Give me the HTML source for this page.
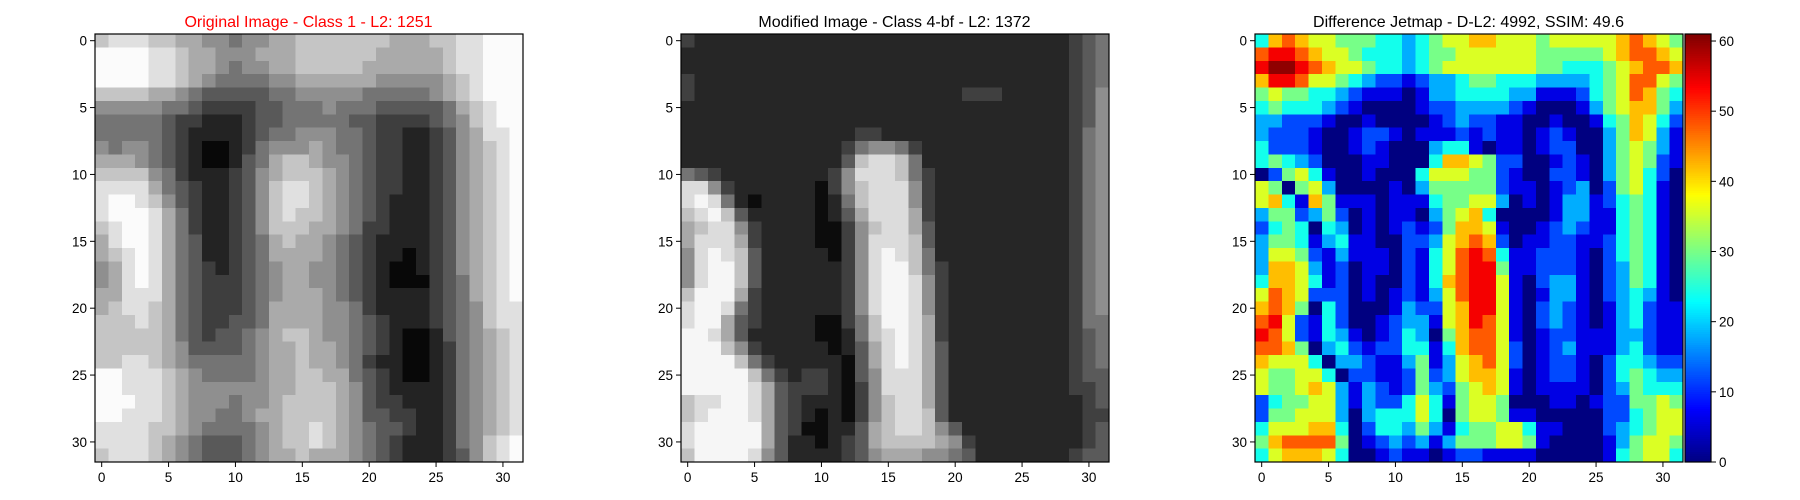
<!DOCTYPE html>
<html><head><meta charset="utf-8">
<style>
html,body{margin:0;padding:0;background:#fff;}
svg{display:block;font-family:"Liberation Sans","DejaVu Sans",sans-serif;}
</style></head>
<body>
<svg id="fig" width="1800" height="500" viewBox="0 0 1800 500" xmlns="http://www.w3.org/2000/svg">
<rect width="1800" height="500" fill="#fff"/>
<g id="p1"></g>
<g id="p2"></g>
<g id="p3"></g>
<g id="cb"></g>
<text x="308.5" y="27" font-size="16" fill="#ff0000" text-anchor="middle">Original Image - Class 1 - L2: 1251</text>
<text x="894.5" y="27" font-size="16" fill="#000" text-anchor="middle">Modified Image - Class 4-bf - L2: 1372</text>
<text x="1468.5" y="27" font-size="16" fill="#000" text-anchor="middle">Difference Jetmap - D-L2: 4992, SSIM: 49.6</text>
</svg>
<script>
// grayscale levels 0..9 (0 = black, 9 = white)
const originalLevels = [
[7,8,8,8,7,7,6,6,5,5,4,5,5,6,6,7,7,7,7,7,7,7,6,6,6,7,7,8,8,9,9,9],
[9,9,9,9,8,8,7,6,6,5,5,5,6,6,6,7,7,7,7,7,7,6,6,6,6,6,7,8,8,9,9,9],
[9,9,9,9,8,8,7,6,6,5,4,5,5,6,6,7,7,7,7,7,6,6,6,6,6,6,7,8,8,9,9,9],
[9,9,9,9,8,8,7,6,5,4,4,4,4,5,5,6,6,6,6,6,6,5,5,5,5,5,6,7,8,9,9,9],
[7,7,7,7,6,6,5,4,3,3,3,3,3,4,4,5,5,5,5,5,4,4,4,4,4,5,6,7,8,9,9,9],
[5,5,5,5,5,4,4,3,2,2,2,2,3,3,4,4,4,5,4,4,4,3,3,3,3,3,4,6,7,8,9,9],
[4,4,4,4,4,3,2,2,1,1,1,2,3,3,4,4,4,4,4,3,3,2,2,2,2,3,4,5,7,8,9,9],
[4,4,4,4,4,3,2,1,1,1,1,2,3,4,4,5,5,5,4,4,3,2,2,1,1,2,3,5,6,8,8,9],
[5,4,5,5,4,3,2,1,0,0,1,2,4,5,5,5,6,5,4,4,3,2,2,1,1,2,3,5,6,7,8,9],
[6,6,6,5,4,3,2,1,0,0,1,3,4,6,7,7,6,5,5,4,3,2,2,1,1,2,3,5,6,7,8,9],
[7,7,7,7,5,4,2,1,1,1,2,3,5,6,7,7,7,6,5,4,3,2,2,1,1,2,3,5,6,7,8,9],
[8,8,8,8,6,4,3,2,1,1,2,3,5,7,8,8,7,6,5,4,3,2,2,1,1,2,3,5,6,7,8,9],
[8,9,9,8,7,5,3,2,1,1,2,3,5,7,8,8,7,6,5,4,3,2,1,1,1,2,3,5,6,7,8,9],
[8,9,9,9,8,6,4,2,1,1,2,3,5,7,8,7,7,6,5,4,3,2,1,1,1,2,3,5,6,7,8,9],
[7,8,9,9,8,6,4,2,1,1,2,3,5,7,7,7,6,6,5,4,2,2,1,1,1,2,3,5,6,7,8,9],
[6,8,9,9,8,6,4,3,1,1,2,3,4,6,7,6,6,5,4,3,2,1,1,1,1,2,3,5,6,7,8,9],
[6,7,8,9,8,6,4,3,1,1,2,3,4,6,6,6,6,5,4,3,2,1,1,0,1,2,3,5,6,7,8,9],
[5,6,8,9,8,6,4,3,2,1,2,3,4,5,6,6,5,5,4,3,2,1,0,0,1,2,3,5,6,7,8,9],
[5,6,8,9,8,6,4,3,2,2,2,3,4,5,6,6,5,5,4,3,2,1,0,0,0,2,3,4,6,7,8,9],
[6,6,8,8,8,6,4,3,2,2,2,3,4,5,6,6,6,5,4,3,2,1,1,1,1,2,3,4,6,7,8,9],
[6,7,8,8,7,6,4,3,2,2,2,3,4,6,6,6,6,5,5,4,2,1,1,1,1,2,3,4,5,7,8,8],
[7,7,7,8,7,6,4,3,2,2,3,3,4,6,6,6,6,5,5,4,3,2,1,1,1,2,3,4,5,7,8,8],
[7,7,7,7,7,6,4,3,2,3,3,4,5,6,7,7,6,5,5,4,3,2,1,0,0,1,3,4,5,6,7,8],
[7,7,7,7,7,6,5,3,3,3,3,4,5,6,6,7,6,6,5,4,3,2,1,0,0,1,2,4,5,6,7,8],
[7,7,8,8,7,6,5,4,4,4,4,4,5,6,6,7,6,6,5,4,2,1,1,0,0,1,2,4,5,6,7,8],
[9,9,8,8,8,7,6,5,4,4,4,4,5,6,6,7,7,6,6,4,3,2,1,0,0,1,2,4,5,6,7,8],
[9,9,8,8,8,7,6,5,5,5,5,5,5,6,6,7,7,7,6,5,3,2,1,1,1,1,2,4,5,6,7,8],
[9,9,9,8,8,7,6,5,5,5,4,5,5,6,7,7,7,7,6,5,3,2,2,1,1,1,2,4,5,6,7,8],
[9,9,8,8,8,7,6,5,5,4,4,5,6,6,7,7,7,7,6,5,3,3,2,2,1,1,2,4,5,6,7,8],
[8,8,8,8,7,7,6,5,4,4,4,4,5,6,7,7,8,7,6,5,4,3,3,2,1,1,2,4,5,6,7,8],
[8,8,8,8,7,6,5,4,3,3,3,4,5,6,7,7,8,7,6,5,4,3,2,1,1,1,2,4,5,7,8,9],
[7,8,8,8,7,6,5,4,3,3,3,4,5,6,6,7,6,6,6,5,4,3,2,1,1,1,2,3,5,7,8,9]
];
const modifiedLevels = [
[2,1,1,1,1,1,1,1,1,1,1,1,1,1,1,1,1,1,1,1,1,1,1,1,1,1,1,1,1,2,3,4],
[1,1,1,1,1,1,1,1,1,1,1,1,1,1,1,1,1,1,1,1,1,1,1,1,1,1,1,1,1,2,3,4],
[1,1,1,1,1,1,1,1,1,1,1,1,1,1,1,1,1,1,1,1,1,1,1,1,1,1,1,1,1,2,3,4],
[2,1,1,1,1,1,1,1,1,1,1,1,1,1,1,1,1,1,1,1,1,1,1,1,1,1,1,1,1,2,3,4],
[2,1,1,1,1,1,1,1,1,1,1,1,1,1,1,1,1,1,1,1,1,2,2,2,1,1,1,1,1,2,3,5],
[1,1,1,1,1,1,1,1,1,1,1,1,1,1,1,1,1,1,1,1,1,1,1,1,1,1,1,1,1,2,3,5],
[1,1,1,1,1,1,1,1,1,1,1,1,1,1,1,1,1,1,1,1,1,1,1,1,1,1,1,1,1,2,3,5],
[1,1,1,1,1,1,1,1,1,1,1,1,1,2,2,1,1,1,1,1,1,1,1,1,1,1,1,1,1,2,4,5],
[1,1,1,1,1,1,1,1,1,1,1,1,2,4,5,5,4,2,1,1,1,1,1,1,1,1,1,1,1,2,4,5],
[1,1,1,1,1,1,1,1,1,1,1,1,3,7,8,8,7,4,1,1,1,1,1,1,1,1,1,1,1,2,4,5],
[4,3,2,1,1,1,1,1,1,1,1,2,5,8,8,8,7,4,2,1,1,1,1,1,1,1,1,1,1,2,4,5],
[8,8,5,2,1,1,1,1,1,1,0,2,5,7,8,8,8,5,2,1,1,1,1,1,1,1,1,1,1,2,4,5],
[8,9,8,4,1,0,1,1,1,1,0,1,4,7,8,8,8,5,2,1,1,1,1,1,1,1,1,1,1,2,4,5],
[7,8,9,7,3,1,1,1,1,1,0,1,3,6,8,8,8,6,2,1,1,1,1,1,1,1,1,1,1,2,4,5],
[6,7,8,8,5,2,1,1,1,1,0,0,2,5,7,8,8,6,3,1,1,1,1,1,1,1,1,1,1,2,4,5],
[6,8,8,8,6,2,1,1,1,1,0,0,2,5,8,8,8,7,3,1,1,1,1,1,1,1,1,1,1,2,4,5],
[5,8,9,8,7,3,1,1,1,1,1,0,2,5,8,9,8,7,4,1,1,1,1,1,1,1,1,1,1,2,4,5],
[5,8,9,9,7,3,1,1,1,1,1,1,2,5,8,9,9,7,4,2,1,1,1,1,1,1,1,1,1,2,4,5],
[5,8,9,9,7,3,1,1,1,1,1,1,2,5,8,9,9,8,5,2,1,1,1,1,1,1,1,1,1,2,4,5],
[7,9,9,9,6,2,1,1,1,1,1,1,2,5,8,9,9,8,5,2,1,1,1,1,1,1,1,1,1,2,4,5],
[8,9,9,8,4,2,1,1,1,1,1,1,2,5,8,9,9,8,5,2,1,1,1,1,1,1,1,1,1,2,4,5],
[8,9,9,6,3,2,1,1,1,1,0,0,2,4,7,9,9,8,6,2,1,1,1,1,1,1,1,1,1,2,4,4],
[9,9,8,6,3,1,1,1,1,1,0,0,1,4,7,8,9,8,6,2,1,1,1,1,1,1,1,1,1,2,3,4],
[9,9,9,7,5,2,1,1,1,1,1,0,1,3,6,8,9,8,6,3,1,1,1,1,1,1,1,1,1,2,3,4],
[9,9,9,9,7,4,2,1,1,1,1,1,0,3,6,8,9,8,6,3,1,1,1,1,1,1,1,1,1,2,3,4],
[9,9,9,9,9,7,4,2,1,2,2,1,0,3,5,8,8,8,6,3,1,1,1,1,1,1,1,1,1,2,3,3],
[9,9,9,9,9,8,6,3,2,2,2,1,0,2,5,8,8,8,6,3,1,1,1,1,1,1,1,1,1,2,2,3],
[7,8,8,9,9,8,6,3,2,1,1,1,0,2,5,7,8,8,6,3,1,1,1,1,1,1,1,1,1,1,2,3],
[7,8,9,9,9,8,6,3,2,1,0,1,0,2,5,7,8,8,7,3,1,1,1,1,1,1,1,1,1,1,2,2],
[8,9,9,9,9,9,6,3,2,0,0,1,1,3,6,7,8,8,7,5,3,1,1,1,1,1,1,1,1,1,2,3],
[8,9,9,9,9,9,6,3,1,1,0,1,2,3,6,7,7,7,7,6,5,2,1,1,1,1,1,1,1,1,2,3],
[7,9,9,9,9,8,5,3,1,1,1,1,2,3,5,6,6,6,5,5,4,3,1,1,1,1,1,1,1,2,3,3]
];
// difference levels: value = level * 6 (0..60)
const diffLevels = [
[4,7,8,7,6,6,5,5,5,4,4,3,4,5,6,6,7,7,6,6,6,5,6,6,6,6,6,7,8,7,6,5],
[8,9,9,8,7,6,6,5,4,4,4,3,4,5,5,6,6,6,6,6,6,5,5,5,5,5,6,7,8,8,7,6],
[9,10,10,9,8,7,6,6,5,4,4,3,4,5,6,6,6,6,6,6,6,5,5,4,4,4,5,6,7,8,8,7],
[7,9,9,8,6,6,5,4,3,2,2,1,2,3,3,4,5,5,4,4,4,3,3,3,3,4,5,6,8,8,6,5],
[5,6,5,5,4,4,3,2,1,1,1,0,1,3,3,4,4,4,4,3,3,1,1,1,2,4,5,6,8,7,5,4],
[4,5,4,4,4,3,2,1,0,0,0,0,1,2,2,3,3,3,3,2,1,0,0,0,1,3,5,6,7,7,5,3],
[3,3,2,2,2,1,0,0,1,0,0,0,0,1,2,3,2,2,1,1,0,0,1,0,0,1,4,5,7,6,4,2],
[3,2,2,2,1,0,0,1,2,2,1,0,1,1,1,2,1,2,1,1,0,1,2,1,0,0,3,5,7,6,3,1],
[4,2,2,2,1,0,0,1,2,1,0,0,0,3,4,4,1,0,1,1,0,1,2,2,0,0,3,5,6,5,3,1],
[4,5,4,3,2,0,0,0,1,1,0,0,0,4,7,7,6,5,2,2,0,0,1,2,1,0,3,5,6,5,2,1],
[0,2,5,6,4,1,0,0,1,0,0,0,4,6,6,6,5,5,2,1,0,0,2,2,1,0,3,5,6,4,2,0],
[6,5,0,5,6,3,0,0,0,0,1,0,3,5,5,5,5,5,2,1,1,0,1,2,3,0,2,5,6,4,1,0],
[6,7,4,1,7,5,1,1,1,0,1,1,1,4,5,5,6,6,3,0,1,0,1,3,3,1,2,4,5,4,1,0],
[3,5,5,2,3,5,2,0,1,0,1,1,0,3,5,6,7,4,0,0,0,0,1,3,3,1,1,4,5,4,1,0],
[2,4,5,4,0,4,3,0,1,0,1,2,1,2,5,7,7,6,1,0,0,1,2,3,2,1,1,4,5,4,1,0],
[3,5,5,4,1,3,4,1,1,0,0,2,2,3,6,7,8,7,2,0,1,1,2,2,1,1,2,4,5,4,1,0],
[3,6,6,5,2,1,3,1,1,1,0,2,1,4,6,8,9,8,4,1,1,2,2,2,1,0,2,4,5,4,1,0],
[3,7,7,6,3,1,2,0,1,1,0,2,1,4,6,8,9,9,5,1,1,2,2,2,1,0,2,3,5,4,1,0],
[4,7,7,6,4,1,2,0,1,0,0,2,1,4,7,8,9,9,6,1,0,2,3,3,1,0,2,3,5,4,1,0],
[6,8,7,6,2,2,2,0,1,0,1,2,1,3,6,8,9,9,6,1,0,1,3,3,1,0,2,3,4,3,1,0],
[7,8,7,5,0,4,2,0,0,0,1,3,2,2,6,7,9,9,6,1,0,2,3,2,1,0,1,3,4,2,1,1],
[8,9,6,2,1,4,2,0,0,1,2,3,3,1,6,7,9,8,6,1,0,2,3,2,1,0,1,3,4,2,1,1],
[9,8,6,2,1,4,3,1,0,1,2,4,3,0,5,7,8,8,6,1,0,1,2,2,1,1,1,3,3,2,1,1],
[8,8,7,5,0,3,4,2,1,2,2,4,4,1,4,7,8,8,6,2,0,1,2,3,1,1,1,3,4,2,1,1],
[7,6,6,6,4,0,3,3,2,1,1,3,5,1,3,6,7,8,6,2,0,1,2,2,1,0,2,4,4,3,2,2],
[6,5,5,6,6,4,0,2,2,1,1,2,5,2,3,6,7,7,6,1,0,1,2,2,1,0,2,4,5,4,3,3],
[6,5,5,6,7,6,3,1,3,2,1,2,5,3,2,5,6,7,6,1,0,1,1,1,1,0,2,3,5,4,4,4],
[2,4,5,5,6,6,3,1,3,2,2,4,6,4,1,5,6,6,5,0,0,0,1,1,0,1,2,2,5,5,6,5],
[2,5,5,6,6,6,3,0,3,4,4,4,6,4,0,5,6,6,5,1,1,0,0,0,0,0,2,2,4,5,6,6],
[4,6,6,6,7,7,4,0,2,4,4,3,5,3,1,4,5,5,6,6,4,1,1,0,0,0,2,3,4,5,6,6],
[5,7,8,8,8,8,5,0,1,2,3,2,3,1,3,5,5,5,6,6,5,1,0,0,0,0,1,3,5,6,6,5],
[4,6,7,7,7,6,4,0,0,1,2,1,1,0,1,2,2,1,1,1,1,0,0,0,0,0,1,4,5,6,6,4]
];
const axisTicks = [0,5,10,15,20,25,30];
const colorbarTicks = [0,10,20,30,40,50,60];
const diffMax = 61;

const NS = "http://www.w3.org/2000/svg";
const AX_Y = 34, AX_SIZE = 428, N = 32;
const cell = AX_SIZE / N;
function mk(tag, attrs, parent){ const e=document.createElementNS(NS,tag); for(const k in attrs) e.setAttribute(k,attrs[k]); parent.appendChild(e); return e; }
function xScale(x0, c){ return x0 + c*cell; }
function yScale(r){ return AX_Y + r*cell; }
function jet(t){
  t=Math.max(0,Math.min(1,t));
  const f=v=>Math.round(255*Math.max(0,Math.min(1,v)));
  const r=1.5-Math.abs(4*t-3), g=1.5-Math.abs(4*t-2), b=1.5-Math.abs(4*t-1);
  return `rgb(${f(r)},${f(g)},${f(b)})`;
}
function grayOrig(level){ const v=Math.round(8+level*27); return `rgb(${v},${v},${v})`; }
function grayMod(level){ const v=Math.round(12+level*26); return `rgb(${v},${v},${v})`; }

function drawPanel(gid, x0, data, colorFn){
  const g=document.getElementById(gid);
  const cells=mk('g',{'shape-rendering':'crispEdges'},g);
  
  
  data.forEach((row,r)=>row.forEach((v,c)=>{
    const rc=mk('rect',{x:xScale(x0,c),y:yScale(r),width:cell+0.6,height:cell+0.6,fill:colorFn(v)},cells);
    
    
  }));
  const fr=mk('rect',{x:x0,y:AX_Y,width:AX_SIZE,height:AX_SIZE,fill:'none',stroke:'#000','stroke-width':1.2},g);
  
  
  axisTicks.forEach(t=>{
    const px=xScale(x0,t)+cell/2, py=yScale(t)+cell/2;
    mk('line',{x1:px,x2:px,y1:AX_Y+AX_SIZE,y2:AX_Y+AX_SIZE+5,stroke:'#000','stroke-width':1},g);
    const tx=mk('text',{x:px,y:AX_Y+AX_SIZE+20,'font-size':13.5,'text-anchor':'middle'},g);
    tx.textContent=t;
    
    
    mk('line',{x1:x0-5,x2:x0,y1:py,y2:py,stroke:'#000','stroke-width':1},g);
    const ty=mk('text',{x:x0-8,y:py+5,'font-size':13.5,'text-anchor':'end'},g);
    ty.textContent=t;
    
    
  });
}
drawPanel('p1',95,originalLevels,grayOrig);
drawPanel('p2',681,modifiedLevels,grayMod);
drawPanel('p3',1255,diffLevels.map(r=>r.map(v=>v*6)),v=>jet(v/diffMax));

// colorbar
(function(){
  const g=document.getElementById('cb');
  const X=1685, W=26, steps=200;
  for(let i=0;i<steps;i++){
    const y=AX_Y+AX_SIZE-(i+1)/steps*AX_SIZE;
    mk('rect',{x:X,y:y,width:W,height:AX_SIZE/steps+0.6,fill:jet((i+0.5)/steps),'shape-rendering':'crispEdges'},g);
  }
  const fr=mk('rect',{x:X,y:AX_Y,width:W,height:AX_SIZE,fill:'none',stroke:'#000','stroke-width':1.2},g);
  
  
  colorbarTicks.forEach(t=>{
    const y=AX_Y+AX_SIZE-t/diffMax*AX_SIZE;
    mk('line',{x1:X+W,x2:X+W+5,y1:y,y2:y,stroke:'#000','stroke-width':1},g);
    const tx=mk('text',{x:X+W+8,y:y+5,'font-size':13.5},g);
    tx.textContent=t;
    
    
  });
})();
</script>
</body></html>
